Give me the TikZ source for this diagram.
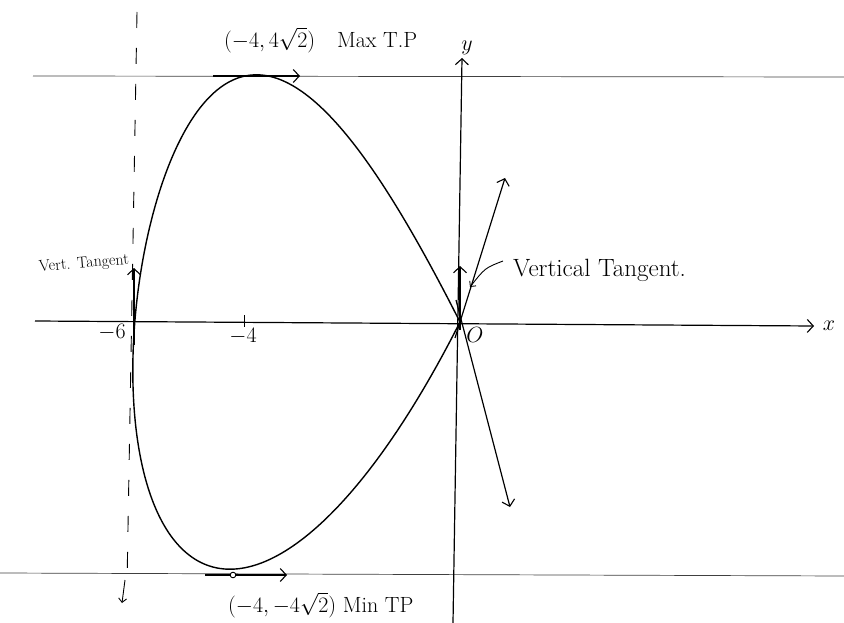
\RequirePackage{fix-cm}
\documentclass[tikz,border=0pt]{standalone}
\usetikzlibrary{arrows.meta}
\begin{document}
\begin{tikzpicture}[x=1pt,y=-1pt,
  ink/.style={line width=1.2pt, black},
  barb/.style={-{Straight Barb[length=6pt,width=13pt,line width=1.1pt]}},
  smallbarb/.style={-{Straight Barb[length=4pt,width=8pt,line width=0.9pt]}},
  guide/.style={line width=0.7pt, black!75},
  lbl/.style={inner sep=0pt, font=\fontsize{22}{24}\selectfont},
  big/.style={inner sep=0pt, font=\fontsize{25}{28}\selectfont},
  tp/.style={inner sep=0pt, font=\fontsize{22}{24}\selectfont},
  small/.style={inner sep=0pt, font=\fontsize{16}{18}\selectfont}]
\useasboundingbox (0,0) rectangle (844,623);

% horizontal guide lines y = +-4 sqrt 2
\coordinate (gt1) at (33,76);  \coordinate (gt2) at (844,77);
\coordinate (gb1) at (0,573);  \coordinate (gb2) at (844,576);
\draw[guide] (gt1) -- (gt2);
\draw[guide] (gb1) -- (gb2);

% dashed vertical x = -6
\coordinate (dv1) at (137,12); \coordinate (dv2) at (127,585);
\draw[ink, line width=0.9pt, dash pattern=on 16pt off 20pt] (dv1) -- (dv2);
\coordinate (da1) at (125,580); \coordinate (da2) at (122,603);
\draw[ink, line width=0.9pt, smallbarb] (da1) -- (da2);

% axes
\coordinate (xa1) at (35,321); \coordinate (xa2) at (814,326);
\draw[ink, barb] (xa1) -- (xa2);
\coordinate (ya1) at (453,623); \coordinate (ya2) at (462,58);
\draw[ink, barb] (ya1) -- (ya2);
\node[lbl] (xl) at (829,326) {$x$};
\node[lbl] (yl) at (467,48) {$y$};

% the loop y^2 = x^2 (x+6), x = t^2-6, y = t(6-t^2)
\draw[ink, line width=1.4pt] plot[domain=-2.4495:2.4495, samples=160, smooth, variable=\t]
  ({460+54.2*(\t*\t-6)+3.5*\t*(6-\t*\t)*(6-\t*\t)/6}, {322-43.7*\t*(6-\t*\t)});

% tick at -4
\coordinate (t4a) at (244,315); \coordinate (t4b) at (244,327);
\draw[ink, line width=0.9pt] (t4a) -- (t4b);
\node[lbl] (m4) at (243,336) {$-4$};
\node[lbl] (m6) at (112,332) {$-6$};
\node[lbl] (o) at (475,335) {$O$};

% horizontal tangents
\coordinate (ht1) at (213,76); \coordinate (ht2) at (300,76);
\draw[ink, line width=1.6pt, barb] (ht1) -- (ht2);
\coordinate (hb1) at (205,575); \coordinate (hb2) at (287,575);
\draw[ink, barb] (hb1) -- (hb2);
\coordinate (minpt) at (233,575);
\draw[ink, line width=0.9pt, fill=white] (minpt) circle (2.8pt);

% vertical tangent at x = -6
\coordinate (vl1) at (134,345); \coordinate (vl2) at (134,268);
\draw[ink, barb] (vl1) -- (vl2);
\node[small, rotate=5] (vt) at (84,264) {Vert. Tangent};

% tangent lines at origin
\coordinate (tu1) at (455,338); \coordinate (tu2) at (505,178);
\draw[ink, barb] (tu1) -- (tu2);
\coordinate (td1) at (456,300); \coordinate (td2) at (510,507);
\draw[ink, barb] (td1) -- (td2);
\coordinate (vo1) at (460,330); \coordinate (vo2) at (460,266);
\draw[ink, barb] (vo1) -- (vo2);

% label Vertical Tangent with pointer
\node[big, anchor=west] (vtr) at (513,270) {Vertical Tangent.};
\coordinate (pt1) at (503,261); \coordinate (pt2) at (470,287);
\draw[ink, line width=0.9pt, smallbarb] (pt1) .. controls (485,268) .. (pt2);

% turning point labels
\node[tp, anchor=west] (maxl) at (224,40) {$(-4,4\sqrt{2})$\quad Max T.P};
\node[tp, anchor=west] (minl) at (228,605) {$(-4,-4\sqrt{2})$ Min TP};
\end{tikzpicture}
\end{document}
